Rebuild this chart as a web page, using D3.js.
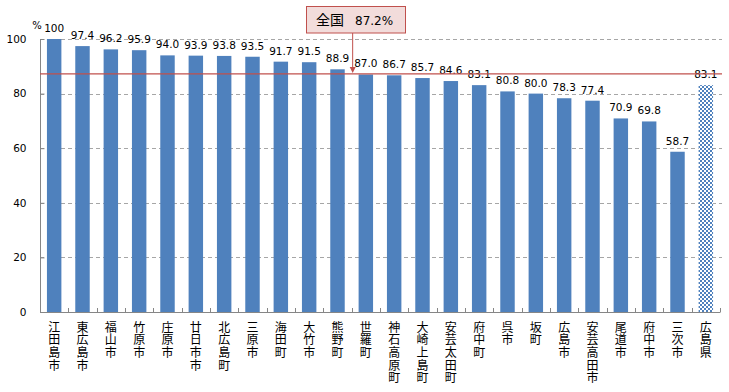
<!DOCTYPE html>
<html><head><meta charset="utf-8">
<script src="https://cdn.jsdelivr.net/npm/d3@7"></script>
<style>body{margin:0;background:#fff}</style>
</head><body>
<svg id="c" width="729" height="392"></svg>
<script>
const categories = ["江田島市","東広島市","福山市","竹原市","庄原市","廿日市市","北広島町","三原市","海田町","大竹市","熊野町","世羅町","神石高原町","大崎上島町","安芸太田町","府中町","呉市","坂町","広島市","安芸高田市","尾道市","府中市","三次市","広島県"];
const values = [100,97.4,96.2,95.9,94.0,93.9,93.8,93.5,91.7,91.5,88.9,87.0,86.7,85.7,84.6,83.1,80.8,80.0,78.3,77.4,70.9,69.8,58.7,83.1];
const yTicks = [0,20,40,60,80,100];
const nationalValue = 87.2;
const highlightCategory = "広島県";

const svg = d3.select("#c");
const L = 40, R = 720, T = 39, B = 312;
const x = d3.scaleBand().domain(categories).range([L, R]).paddingInner(0.49).paddingOuter(0.245);
const y = d3.scaleLinear().domain([0, 100]).range([B, T]);

const defs = svg.append("defs");
const pat = defs.append("pattern").attr("id","chk").attr("patternUnits","userSpaceOnUse").attr("width",4).attr("height",4);
pat.append("rect").attr("width",4).attr("height",4).attr("fill","#ffffff");
pat.append("rect").attr("width",2).attr("height",2).attr("fill","#4f81bd");
pat.append("rect").attr("x",2).attr("y",2).attr("width",2).attr("height",2).attr("fill","#4f81bd");

// gridlines
svg.append("g").selectAll("line").data(yTicks.filter(d => d > 0)).join("line")
  .attr("x1", L).attr("x2", 722).attr("y1", d => Math.round(y(d)) + 0.5).attr("y2", d => Math.round(y(d)) + 0.5)
  .attr("stroke", "#a6a6a6").attr("stroke-dasharray", "4,3");

// bars
svg.append("g").selectAll("rect").data(categories).join("rect")
  .attr("x", d => x(d)).attr("width", x.bandwidth())
  .attr("y", (d, i) => y(values[i])).attr("height", (d, i) => B - y(values[i]))
  .attr("fill", d => d === highlightCategory ? "url(#chk)" : "#4f81bd");

// value labels
svg.append("g").selectAll("text").data(categories).join("text")
  .attr("x", d => x(d) + x.bandwidth() / 2)
  .attr("y", (d, i) => y(values[i]) - 7)
  .attr("text-anchor", "middle")
  .attr("font-family", "DejaVu Sans").attr("font-size", "10.5px").attr("fill", "#000")
  .text((d, i) => values[i] === 100 ? "100" : values[i].toFixed(1));

// y axis
const yAxis = d3.axisLeft(y).tickValues(yTicks).tickSize(-4).tickPadding(14).tickFormat(d3.format("d"));
const gy = svg.append("g").attr("transform", `translate(${L + 0.5},0)`).call(yAxis);
gy.select(".domain").attr("stroke", "#868686").attr("d", `M0,${T}V${B + 0.5}`);
gy.selectAll(".tick line").attr("stroke", "#868686");
gy.selectAll(".tick text").attr("font-family", "DejaVu Sans").attr("font-size", "10.5px").attr("fill", "#000");

// unit label
svg.append("text").attr("x", 37).attr("y", 29).attr("text-anchor", "middle")
  .attr("font-family", "DejaVu Sans").attr("font-size", "10px").text("%");

// x axis
const gx = svg.append("g");
gx.append("line").attr("x1", L).attr("x2", R + 0.5).attr("y1", B + 0.5).attr("y2", B + 0.5).attr("stroke", "#868686");
const step = x.step();
const boundaries = d3.range(categories.length + 1).map(i => L + i * step);
gx.selectAll("line.t").data(boundaries.slice(1)).join("line").attr("class", "t")
  .attr("x1", d => Math.round(d) + 0.5).attr("x2", d => Math.round(d) + 0.5)
  .attr("y1", B).attr("y2", B - 4).attr("stroke", "#868686");

// x labels (vertical)
svg.append("g").selectAll("text").data(categories).join("text")
  .attr("x", d => x(d) + x.bandwidth() / 2)
  .attr("y", 321)
  .style("writing-mode", "vertical-rl")
  .style("text-orientation", "upright")
  .attr("letter-spacing", "0.7px")
  .attr("font-family", "Noto Sans CJK JP").attr("font-size", "12px").attr("fill", "#000")
  .text(d => d);

// national line
svg.append("line").attr("x1", L).attr("x2", 722).attr("y1", y(nationalValue)).attr("y2", y(nationalValue))
  .attr("stroke", "#c0504d").attr("stroke-width", 1.3);

// callout
const ax = (x(categories[10]) + x(categories[11]) + x.bandwidth()) / 2 + 1;
svg.append("rect").attr("x", 306.5).attr("y", 6.5).attr("width", 99).attr("height", 26.5)
  .attr("fill", "#f2dcdb").attr("stroke", "#c0504d").attr("stroke-width", 1);
svg.append("line").attr("x1", ax).attr("x2", ax).attr("y1", 33).attr("y2", y(nationalValue) - 4)
  .attr("stroke", "#c0504d").attr("stroke-width", 1);
svg.append("path").attr("d", `M${ax - 3},${y(nationalValue) - 7}L${ax + 3},${y(nationalValue) - 7}L${ax},${y(nationalValue) - 1}Z`)
  .attr("fill", "#c0504d");
const ct = svg.append("text").attr("x", 316).attr("y", 25).attr("fill", "#000");
ct.append("tspan").attr("font-family", "Noto Sans CJK JP").attr("font-size", "14px").text("全国");
ct.append("tspan").attr("x", 355).attr("font-family", "DejaVu Sans").attr("font-size", "12px").text("87.2%");
</script>
</body></html>
